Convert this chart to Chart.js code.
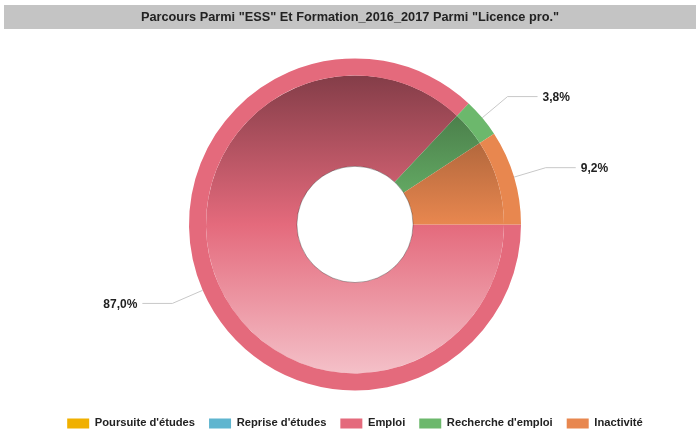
<!DOCTYPE html>
<html>
<head>
<meta charset="utf-8">
<script src="https://cdn.jsdelivr.net/npm/chart.js@4/dist/chart.umd.min.js"></script>
<style>
  html, body { margin: 0; padding: 0; background: #fff; }
  #wrap { width: 696px; height: 436px; position: relative; }
</style>
</head>
<body>
<div id="wrap"><canvas id="chart" width="696" height="436"></canvas></div>
<script>
const chartTitle = 'Parcours Parmi "ESS" Et Formation_2016_2017 Parmi "Licence pro."';
const categories = ["Poursuite d'études", "Reprise d'études", 'Emploi', "Recherche d'emploi", 'Inactivité'];
const shares = [0, 0, 87.0, 3.8, 9.2];
const colors = ['#f0b000', '#5fb5cf', '#e46a7c', '#6cb86c', '#e8874f'];

const FONT = '"Liberation Sans", Arial, sans-serif';

const hex = c => [1, 3, 5].map(i => parseInt(c.slice(i, i + 2), 16));
const mix = (c, target, t) => {
  const [r, g, b] = hex(c);
  return `rgb(${Math.round(r + (target - r) * t)},${Math.round(g + (target - g) * t)},${Math.round(b + (target - b) * t)})`;
};

// vertical shading of the inner ring, dark on top, pale at bottom
const shaded = (ctx) => {
  const base = colors[ctx.dataIndex];
  const area = ctx.chart.chartArea;
  if (!area) return base;
  const cy = (area.top + area.bottom) / 2;
  const r = 149;
  const g = ctx.chart.ctx.createLinearGradient(0, cy - r, 0, cy + r);
  g.addColorStop(0, mix(base, 0, 0.42));
  g.addColorStop(0.5, base);
  g.addColorStop(1, mix(base, 255, 0.58));
  return g;
};

const titleBar = {
  id: 'titleBar',
  beforeDraw(chart) {
    const c = chart.ctx;
    c.save();
    c.fillStyle = '#c4c4c4';
    c.fillRect(4, 5, 692, 24);
    c.fillStyle = '#222';
    c.font = `bold 12.75px ${FONT}`;
    c.textAlign = 'center';
    c.textBaseline = 'middle';
    c.fillText(chartTitle, 350, 17.5);
    c.restore();
  }
};

const sliceLabels = {
  id: 'sliceLabels',
  afterDatasetsDraw(chart) {
    const c = chart.ctx;
    const outer = chart.getDatasetMeta(0).data;
    const inner = chart.getDatasetMeta(1).data;
    c.save();
    // hole outline
    const a0 = inner[0];
    c.beginPath();
    c.arc(a0.x, a0.y, a0.innerRadius, 0, Math.PI * 2);
    c.strokeStyle = 'rgba(0,0,0,0.3)';
    c.lineWidth = 1;
    c.stroke();

    outer.forEach((arc, i) => {
      if (!shares[i]) return;
      const mid = (arc.startAngle + arc.endAngle) / 2;
      const cos = Math.cos(mid), sin = Math.sin(mid);
      const r = arc.outerRadius;
      const x0 = arc.x + cos * r, y0 = arc.y + sin * r;
      const x1 = arc.x + cos * (r + 33), y1 = arc.y + sin * (r + 33);
      const dir = cos >= 0 ? 1 : -1;
      const x2 = x1 + dir * 30;
      c.beginPath();
      c.moveTo(x0, y0);
      c.lineTo(x1, y1);
      c.lineTo(x2, y1);
      c.strokeStyle = '#c8c8c8';
      c.stroke();
      c.fillStyle = '#222';
      c.font = `bold 12px ${FONT}`;
      c.textBaseline = 'middle';
      c.textAlign = dir > 0 ? 'left' : 'right';
      c.fillText(shares[i].toFixed(1).replace('.', ',') + '%', x2 + dir * 5, y1 + 1);
    });
    c.restore();
  }
};

new Chart(document.getElementById('chart'), {
  type: 'doughnut',
  data: {
    labels: categories,
    datasets: [
      { data: shares, backgroundColor: colors, borderWidth: 0, weight: 17 },
      { data: shares, backgroundColor: shaded, borderWidth: 0, weight: 91 }
    ]
  },
  options: {
    responsive: false,
    animation: false,
    rotation: 90,
    radius: 166,
    cutout: '35%',
    layout: { padding: { top: 45, left: 24, right: 10, bottom: -3 } },
    plugins: {
      tooltip: { enabled: false },
      legend: {
        position: 'bottom',
        labels: {
          boxWidth: 22,
          boxHeight: 10,
          padding: 14,
          color: '#222',
          font: { family: FONT, size: 11.2, weight: 'bold' }
        }
      }
    }
  },
  plugins: [titleBar, sliceLabels]
});
</script>
</body>
</html>
